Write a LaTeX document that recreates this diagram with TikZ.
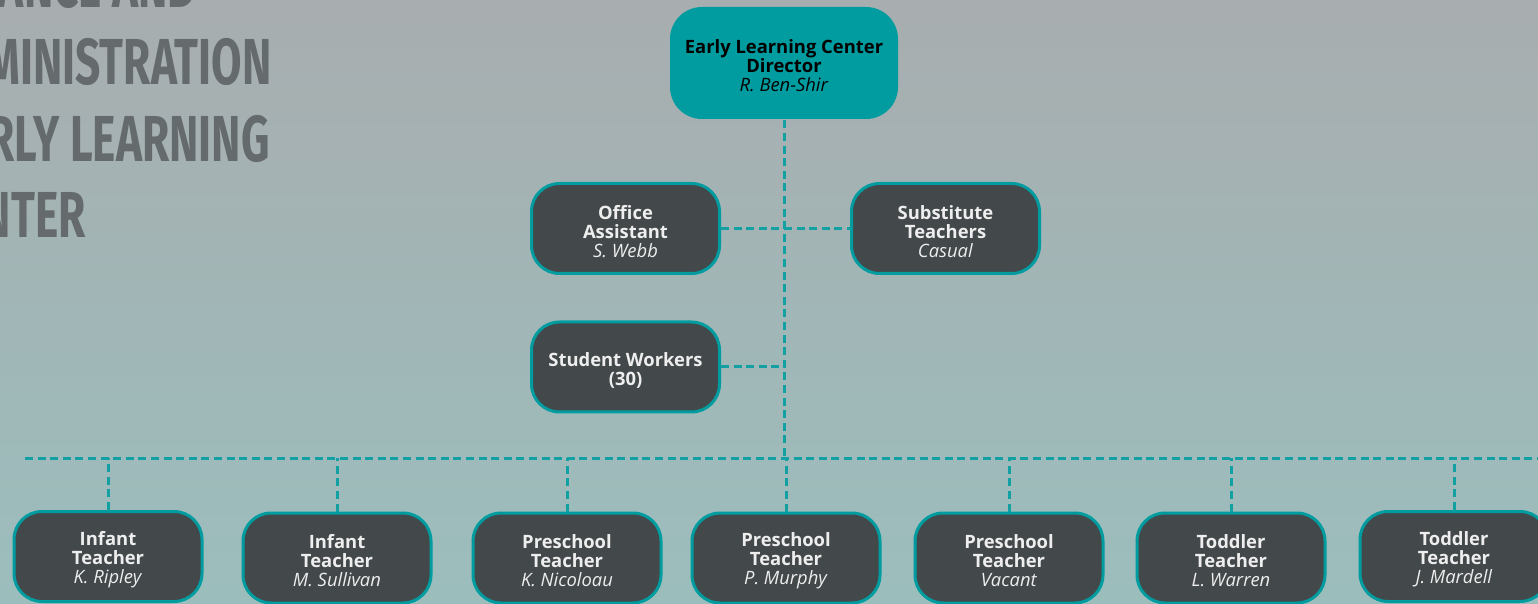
\documentclass[tikz,border=0pt]{standalone}
\usepackage{fontspec}
\setmainfont{Open Sans}
\newfontfamily\titlefont[FakeStretch=0.68]{Fira Sans}
\usetikzlibrary{positioning}

\definecolor{bgtop}{HTML}{A8ADAF}
\definecolor{bgbot}{HTML}{9BBEBD}
\definecolor{tealline}{HTML}{12A0A2}
\definecolor{ctrteal}{HTML}{009C9F}
\definecolor{boxgray}{HTML}{43484A}
\definecolor{titlegray}{HTML}{656B6C}
\definecolor{lighttext}{HTML}{EEEEEE}

% a strut on the first line pushes the text a bit down in its box
\newcommand\post[3]{\textbf{\rule{0pt}{10pt}#1}\\\textbf{#2}\\\textit{#3}}

\tikzset{
  staff/.style={draw=ctrteal, line width=1.5pt, fill=boxgray, rounded corners=14pt,
    minimum width=94pt, minimum height=45pt, align=center, text=lighttext,
    inner sep=2pt, font=\fontsize{9.2}{9.5}\selectfont},
  head/.style={staff, fill=ctrteal, draw=none, minimum width=114pt,
    minimum height=56pt, rounded corners=16pt, text=black},
  link/.style={draw=tealline, line width=1.5pt, dash pattern=on 4pt off 2.3pt},
  title/.style={anchor=base east, inner sep=0pt, text=titlegray,
    font=\titlefont\bfseries\fontsize{32.5}{38}\selectfont}
}

\begin{document}
\begin{tikzpicture}[x=0.5pt,y=-0.5pt]
  \useasboundingbox (0,0) rectangle (1538,604);
  \clip (0,0) rectangle (1538,604);
  \shade[top color=bgtop, bottom color=bgbot] (0,0) rectangle (1538,604);

  % title, cut by the page edge
  \node[title] (title1) at (197,8) {GOVERNANCE AND};
  \node[title] (title2) at (272,85) {ADMINISTRATION};
  \node[title] (title3) at (270,162) {EARLY LEARNING};
  \node[title] (title4) at (86,238) {CENTER};

  % boxes
  \node[head] (dir) at (784,63) {\post{Early Learning Center}{Director}{R. Ben-Shir}};
  \node[staff] (office) at (625.5,228.5) {\post{Office}{Assistant}{S. Webb}};
  \node[staff] (subst) at (945.5,228.5) {\post{Substitute}{Teachers}{Casual}};
  \node[staff] (students) at (625.5,367) {\textbf{\rule{0pt}{10pt}Student Workers}\\\textbf{(30)}};

  \node[staff] (inf1) at (108,556.5) {\post{Infant}{Teacher}{K. Ripley}};
  \node[staff] (inf2) at (337,558) {\post{Infant}{Teacher}{M. Sullivan}};
  \node[staff] (pre1) at (567,558) {\post{Preschool}{Teacher}{K. Nicoloau}};
  \node[staff] (pre2) at (786,558) {\post{Preschool}{Teacher}{P. Murphy}};
  \node[staff] (pre3) at (1009,558) {\post{Preschool}{Teacher}{Vacant}};
  \node[staff] (tod1) at (1231,558) {\post{Toddler}{Teacher}{L. Warren}};
  \node[staff] (tod2) at (1454,556.5) {\post{Toddler}{Teacher}{J. Mardell}};

  % connectors
  \coordinate (busL) at (25,458);
  \coordinate (busR) at (1545,458);
  \coordinate (hub) at (784,458);
  \draw[link] (dir.south) -- (hub);
  \draw[link] (busL) -- (busR);
  \draw[link] (office.east) -- (subst.west);
  \draw[link] (students.east) -- (students.east -| hub);
  \foreach \n in {inf1,inf2,pre1,pre2,pre3,tod1,tod2}
    \draw[link] (\n.north) -- (\n.north |- busL);
\end{tikzpicture}
\end{document}
